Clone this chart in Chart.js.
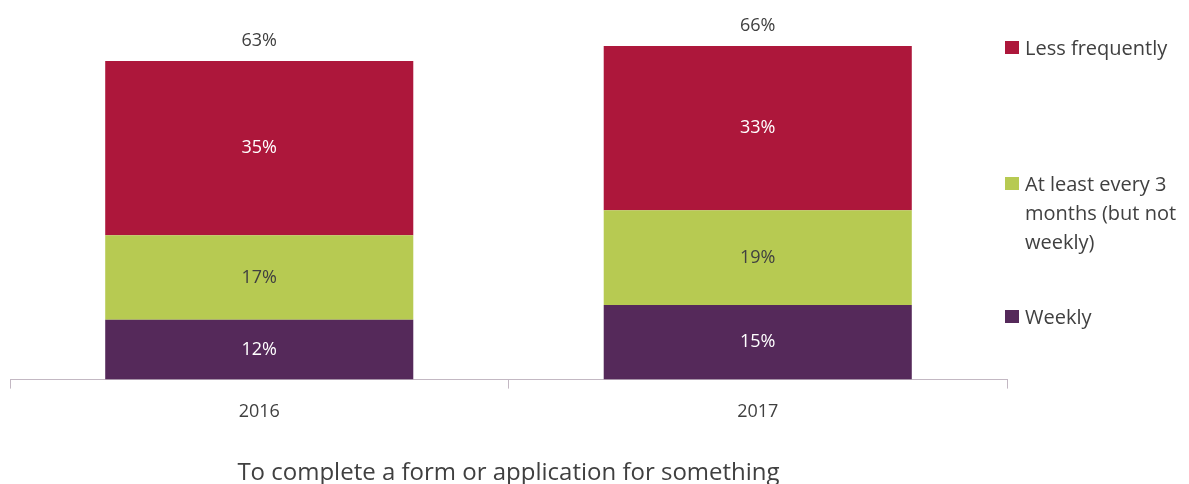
<!DOCTYPE html>
<html>
<head>
<meta charset="utf-8">
<script src="https://cdn.jsdelivr.net/npm/chart.js@4/dist/chart.umd.min.js"></script>
<style>
  body { margin: 0; background: #fff; }
  #wrap { position: relative; width: 1189px; height: 484px; }
  #legend { position: absolute; left: 1005px; top: 0; font-family: "Open Sans", sans-serif; font-size: 20px; color: #404040; }
  .item { position: absolute; left: 0; width: 184px; padding-left: 20px; line-height: 29px; white-space: nowrap; }
  .item span.box { position: absolute; left: 0; top: 8px; width: 14px; height: 13px; }
</style>
</head>
<body>
<div id="wrap">
  <canvas id="chart" width="1189" height="484"></canvas>
  <div id="legend"></div>
</div>
<script>
// 数据
var years = ['2016', '2017'];
var weekly = [12, 15];
var every3Months = [17, 19];
var lessFrequently = [35, 33];
var totals = ['63%', '66%'];
var seriesNames = ['Weekly', 'At least every 3 months (but not weekly)', 'Less frequently'];
var seriesColors = ['#55295A', '#B7CA52', '#AD173B'];
var labelColors = ['#ffffff', '#404040', '#ffffff'];
var FONT = '"Open Sans", sans-serif';

// 图例（手动生成）
var legendItems = [
  { color: seriesColors[2], top: 33, lines: ['Less frequently'] },
  { color: seriesColors[1], top: 169, lines: ['At least every 3', 'months (but not', 'weekly)'] },
  { color: seriesColors[0], top: 302, lines: ['Weekly'] }
];
for (let it of legendItems) {
  var d = document.createElement('div');
  d.className = 'item';
  d.style.top = it.top + 'px';
  d.innerHTML = '<span class="box" style="background:' + it.color + '"></span>' + it.lines.join('<br>');
  document.getElementById('legend').appendChild(d);
}

// 柱内数值与顶部合计
const valueLabels = {
  id: 'valueLabels',
  afterDatasetsDraw(chart) {
    const ctx = chart.ctx;
    ctx.save();
    ctx.font = '18px ' + FONT;
    ctx.textAlign = 'center';
    ctx.textBaseline = 'middle';
    chart.data.datasets.forEach(function(ds, i) {
      chart.getDatasetMeta(i).data.forEach(function(bar, j) {
        ctx.fillStyle = labelColors[i];
        ctx.fillText(ds.data[j] + '%', bar.x, (bar.y + bar.base) / 2);
      });
    });
    var top = chart.getDatasetMeta(chart.data.datasets.length - 1).data;
    ctx.fillStyle = '#404040';
    top.forEach(function(bar, j) {
      ctx.fillText(totals[j], bar.x, bar.y - 20);
    });
    ctx.restore();
  }
};

const nc = document.getElementById('chart');
new Chart(nc, {
  type: 'bar',
  data: {
    labels: years,
    datasets: [
      { label: seriesNames[0], data: weekly, backgroundColor: seriesColors[0] },
      { label: seriesNames[1], data: every3Months, backgroundColor: seriesColors[1] },
      { label: seriesNames[2], data: lessFrequently, backgroundColor: seriesColors[2] }
    ]
  },
  options: {
    responsive: false,
    animation: false,
    layout: { padding: { left: 10, right: 182, top: 31, bottom: 0 } },
    datasets: { bar: { categoryPercentage: 1, barPercentage: 0.618 } },
    plugins: { legend: { display: false }, tooltip: { enabled: false } },
    scales: {
      x: {
        stacked: true,
        border: { color: '#C3B8C3', width: 1 },
        grid: { drawOnChartArea: false, drawTicks: true, tickLength: 9, color: '#C3B8C3' },
        ticks: { color: '#404040', font: { family: FONT, size: 18 }, padding: 12 },
        title: { display: true, text: 'To complete a form or application for something', color: '#404040', font: { family: FONT, size: 24 }, padding: { top: 25, bottom: -4 } }
      },
      y: { stacked: true, display: false, min: 0, max: 70 }
    }
  },
  plugins: [valueLabels]
});
</script>
</body>
</html>
